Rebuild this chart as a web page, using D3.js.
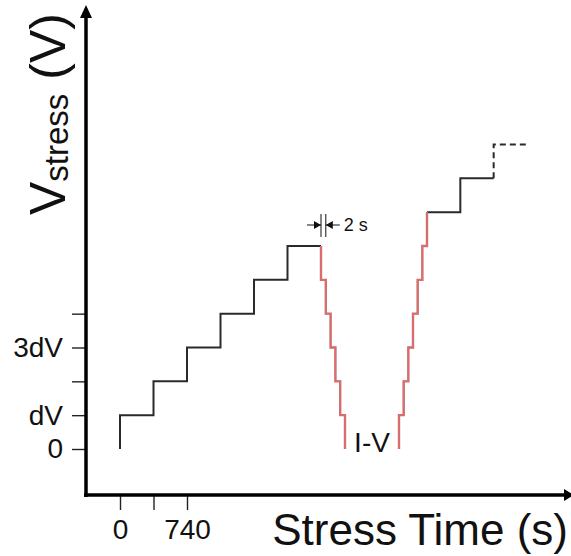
<!DOCTYPE html>
<html lang="en">
<head>
    <meta charset="UTF-8">
    <title>Stress voltage vs stress time</title>
    <script src="https://d3js.org/d3.v7.min.js"></script>
    <style>
        body {
            margin: 0;
            background: white;
            font-family: "Liberation Sans", Arial, Helvetica, sans-serif;
        }
        svg {
            display: block;
        }
    </style>
</head>
<body>
    <svg width="571" height="556"></svg>

    <script>
        // stress steps (time in s, level in units of dV)
        const stressTimesA = [0, 0, 370, 740, 1110, 1480, 1850, 2220];
        const stressLevelsA = [0, 1, 2, 3, 4, 5, 6, 6];

        // I-V sweep down, 2 s per step
        const ivDownTimes = [2220, 2220, 2222, 2224, 2226, 2228, 2230];
        const ivDownLevels = [6, 5, 4, 3, 2, 1, 0];

        // I-V sweep back up
        const ivUpTimes = [2232, 2232, 2234, 2236, 2238, 2240, 2242, 2244];
        const ivUpLevels = [0, 1, 2, 3, 4, 5, 6, 7];

        const stressTimesB = [2244, 2614, 2984];
        const stressLevelsB = [7, 8, 8];

        // continues (dashed)
        const contTimes = [2984, 2984, 3354];
        const contLevels = [8, 9, 9];

        const yTickValues = [0, 1, 2, 3, 4];
        const yTickLabels = ["0", "dV", "", "3dV", ""];
        const xTickValues = [0, 370, 740];
        const xTickLabels = ["0", "", "740"];

        const svg = d3.select("svg");

        // broken time axis: stress phases are slow, I-V steps (2 s) are stretched
        const x = d3.scaleLinear()
            .domain([0, 2220, 2230, 2232, 2244, 3354])
            .range([120, 321, 345, 399, 427, 527]);

        const y = d3.scaleLinear()
            .domain([0, 6])
            .range([449, 246]);

        const axisX = 86, axisY = 495;

        const zip = (ts, vs) => ts.map((t, i) => [t, vs[i]]);
        const line = d3.line()
            .x(d => x(d[0]))
            .y(d => y(d[1]))
            .curve(d3.curveStepAfter);

        // y axis ticks
        const yAxis = svg.append("g")
            .attr("transform", `translate(${axisX},0)`)
            .call(d3.axisLeft(y)
                .tickValues(yTickValues)
                .tickSize(14)
                .tickPadding(9)
                .tickFormat((d, i) => yTickLabels[i]));
        yAxis.select(".domain").remove();
        yAxis.selectAll("line").attr("stroke", "#222").attr("stroke-width", 1.4);
        yAxis.selectAll("text")
            .attr("font-size", 28)
            .attr("font-family", "Liberation Sans, Arial, sans-serif")
            .attr("fill", "#111");

        // x axis ticks
        const xAxis = svg.append("g")
            .attr("transform", `translate(0,${axisY})`)
            .call(d3.axisBottom(x)
                .tickValues(xTickValues)
                .tickSize(15)
                .tickPadding(9)
                .tickFormat((d, i) => xTickLabels[i]));
        xAxis.select(".domain").remove();
        xAxis.selectAll("line").attr("stroke", "#222").attr("stroke-width", 1.4);
        xAxis.selectAll("text")
            .attr("font-size", 28)
            .attr("font-family", "Liberation Sans, Arial, sans-serif")
            .attr("fill", "#111");

        // axis lines with arrows
        svg.append("line")
            .attr("x1", axisX).attr("y1", axisY + 2)
            .attr("x2", axisX).attr("y2", 14)
            .attr("stroke", "#000").attr("stroke-width", 3.5);
        svg.append("path")
            .attr("d", `M${axisX},5 L${axisX - 6},18 L${axisX + 6},18 Z`)
            .attr("fill", "#000");
        svg.append("line")
            .attr("x1", axisX - 2).attr("y1", axisY)
            .attr("x2", 566).attr("y2", axisY)
            .attr("stroke", "#000").attr("stroke-width", 3.5);
        svg.append("path")
            .attr("d", `M574,${axisY} L564,${axisY - 6} L564,${axisY + 6} Z`)
            .attr("fill", "#000");

        // stress steps
        svg.append("path")
            .attr("d", line(zip(stressTimesA, stressLevelsA)))
            .attr("fill", "none").attr("stroke", "#2a2a2a").attr("stroke-width", 2);
        svg.append("path")
            .attr("d", line(zip(stressTimesB, stressLevelsB)))
            .attr("fill", "none").attr("stroke", "#2a2a2a").attr("stroke-width", 2);
        svg.append("path")
            .attr("d", line(zip(contTimes, contLevels)))
            .attr("fill", "none").attr("stroke", "#2a2a2a").attr("stroke-width", 2)
            .attr("stroke-dasharray", "6,4");

        // I-V sweeps
        [zip(ivDownTimes, ivDownLevels), zip(ivUpTimes, ivUpLevels)].forEach(pts => {
            svg.append("path")
                .attr("d", line(pts))
                .attr("fill", "none").attr("stroke", "#a08080").attr("stroke-width", 2.4);
            svg.append("path")
                .attr("d", line(pts))
                .attr("fill", "none").attr("stroke", "#f06464").attr("stroke-width", 1.5);
        });

        svg.append("text")
            .attr("x", (x(ivDownTimes[6]) + x(ivUpTimes[0])) / 2)
            .attr("y", 452)
            .attr("text-anchor", "middle")
            .attr("font-size", 28)
            .attr("fill", "#111")
            .text("I-V");

        // 2 s annotation
        const a1 = x(2220), a2 = x(2222), ay = 225;
        [a1, a2].forEach(xx => {
            svg.append("line")
                .attr("x1", xx).attr("x2", xx)
                .attr("y1", 214).attr("y2", 237)
                .attr("stroke", "#111").attr("stroke-width", 1);
        });
        svg.append("line").attr("x1", a1 - 14).attr("x2", a1).attr("y1", ay).attr("y2", ay)
            .attr("stroke", "#111").attr("stroke-width", 1);
        svg.append("path").attr("d", `M${a1},${ay} L${a1 - 7},${ay - 4} L${a1 - 7},${ay + 4} Z`)
            .attr("fill", "#111");
        svg.append("line").attr("x1", a2).attr("x2", a2 + 14).attr("y1", ay).attr("y2", ay)
            .attr("stroke", "#111").attr("stroke-width", 1);
        svg.append("path").attr("d", `M${a2},${ay} L${a2 + 7},${ay - 4} L${a2 + 7},${ay + 4} Z`)
            .attr("fill", "#111");
        svg.append("text")
            .attr("x", a2 + 18).attr("y", 231)
            .attr("font-size", 18)
            .attr("fill", "#111")
            .text("2 s");

        // axis titles
        const yTitle = svg.append("text")
            .attr("transform", "translate(65,215) rotate(-90)")
            .attr("fill", "#111");
        yTitle.append("tspan").attr("font-size", 50).text("V");
        yTitle.append("tspan").attr("font-size", 33).attr("dy", 3).text("stress");
        yTitle.append("tspan").attr("font-size", 50).attr("dy", -3).text(" (V)");

        svg.append("text")
            .attr("x", 568).attr("y", 545)
            .attr("text-anchor", "end")
            .attr("font-size", 44)
            .attr("fill", "#111")
            .text("Stress Time (s)");
    </script>
</body>
</html>
